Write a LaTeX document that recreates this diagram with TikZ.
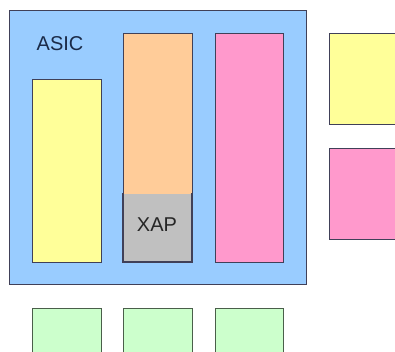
\documentclass[tikz,border=0pt]{standalone}
\usepackage{fontspec}
\setmainfont{Liberation Sans}
\definecolor{asicblue}{HTML}{99CCFF}
\definecolor{blkyellow}{HTML}{FFFF99}
\definecolor{blkorange}{HTML}{FFCC99}
\definecolor{blkpink}{HTML}{FF99CC}
\definecolor{blkgrey}{HTML}{C0C0C0}
\definecolor{blkgreen}{HTML}{CCFFCC}
\definecolor{edge}{HTML}{404058}
\definecolor{greenedge}{HTML}{4A5E4A}
\definecolor{navytext}{HTML}{1A2A48}
\tikzset{
  blk/.style={draw=edge, line width=1.1pt, rectangle, inner sep=0pt, anchor=north west},
  lbl/.style={font=\fontsize{20}{23}\selectfont, inner sep=0pt},
}
\begin{document}
\begin{tikzpicture}[x=1pt,y=-1pt]
\useasboundingbox (0,0) rectangle (395,351);
\clip (0,0) rectangle (395,351);
\fill[white] (0,0) rectangle (395,351);
% ASIC outline
\node[blk, fill=asicblue, minimum width=297pt, minimum height=274pt] (asic) at (9,10) {};
\node[lbl, text=navytext] (asiclbl) at (60,43.5) {ASIC};
% inner blocks
\node[blk, fill=blkyellow, minimum width=69pt, minimum height=183pt] (y1) at (32,79) {};
\node[blk, fill=blkorange, minimum width=69pt, minimum height=229pt] (o1) at (123,33) {};
\node[blk, fill=blkgrey, draw=none, minimum width=68pt, minimum height=68pt] (xap) at (123.5,193.5) {};
\node[lbl, text=black!85] (xaplbl) at (157,225) {XAP};
\draw[edge, line width=1.1pt] (123,193) -- (123,262) -- (192,262) -- (192,193);
\node[blk, fill=blkpink, minimum width=68pt, minimum height=229pt] (p1) at (215,33) {};
% right blocks
\node[blk, fill=blkyellow, minimum width=80pt, minimum height=91pt] (y2) at (329,33) {};
\node[blk, fill=blkpink, minimum width=80pt, minimum height=91pt] (p2) at (329,148) {};
% bottom green blocks
\node[blk, fill=blkgreen, draw=greenedge, minimum width=69pt, minimum height=60pt] (g1) at (32,308) {};
\node[blk, fill=blkgreen, draw=greenedge, minimum width=69pt, minimum height=60pt] (g2) at (123,308) {};
\node[blk, fill=blkgreen, draw=greenedge, minimum width=68pt, minimum height=60pt] (g3) at (215,308) {};
\end{tikzpicture}
\end{document}
